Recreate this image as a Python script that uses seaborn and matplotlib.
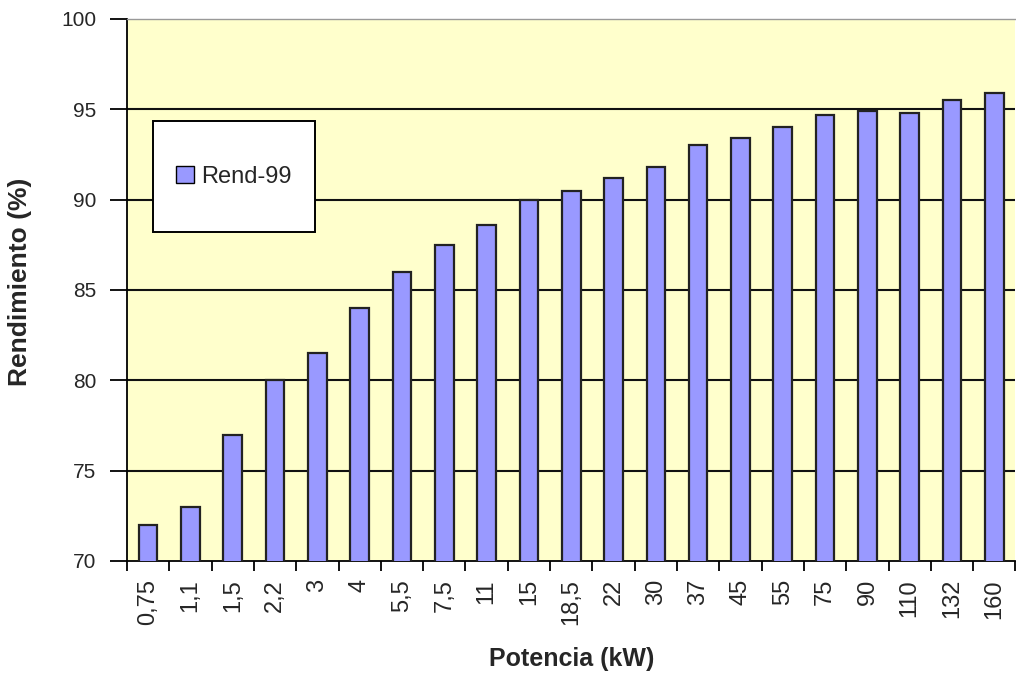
import matplotlib
matplotlib.use("Agg")
import matplotlib.pyplot as plt
import seaborn as sns
import pandas as pd
import numpy as np
from matplotlib.patches import Patch, Rectangle

# Motor rated power (kW) and efficiency (%)
potencia = ["0,75", "1,1", "1,5", "2,2", "3", "4", "5,5", "7,5", "11", "15", "18,5",
            "22", "30", "37", "45", "55", "75", "90", "110", "132", "160"]
rendimiento = [72.0, 73.0, 77.0, 80.0, 81.5, 84.0, 86.0, 87.5, 88.6, 90.0, 90.5,
               91.2, 91.8, 93.0, 93.4, 94.0, 94.7, 94.9, 94.8, 95.5, 95.9]
serie = "Rend-99"
y_ticks = [70, 75, 80, 85, 90, 95, 100]

df = pd.DataFrame({"Potencia": potencia, "Rendimiento": rendimiento})

sns.set_style("white")
plt.rcParams["font.family"] = ["Liberation Sans", "DejaVu Sans"]

fig = plt.figure(figsize=(10.16, 6.78), dpi=100)
ax = fig.add_axes([0.125, 0.1726, 0.8745, 0.7994])
ax.set_facecolor("#FFFFCC")

sns.barplot(data=df, x="Potencia", y="Rendimiento", order=potencia,
            color="#9999FF", edgecolor="#222222", linewidth=1.6,
            width=0.44, saturation=1, ax=ax, zorder=3)

ax.set_ylim(70, 100)
ax.set_xlim(-0.5, len(potencia) - 0.5)
ax.set_yticks(y_ticks)
ax.set_yticklabels([str(v) for v in y_ticks], fontsize=15)

# horizontal gridlines at inner ticks
for v in y_ticks[1:-1]:
    ax.axhline(v, color="#111111", linewidth=1.5, zorder=1)

# category labels centred under bars, tick marks between categories
ax.set_xticks(range(len(potencia)))
ax.set_xticklabels(potencia, rotation=90, fontsize=17)
ax.set_xticks(np.arange(-0.5, len(potencia)), minor=True)
ax.tick_params(axis="x", which="major", length=0, pad=13)
ax.tick_params(axis="x", which="minor", length=7, width=1.3, color="black",
               direction="out", bottom=True)
ax.tick_params(axis="y", which="major", length=12, width=1.3, color="black",
               direction="out", left=True, pad=10)

ax.spines["right"].set_visible(False)
ax.spines["top"].set_color("#999999")
ax.spines["top"].set_linewidth(1.0)
for side in ["left", "bottom"]:
    ax.spines[side].set_color("black")
    ax.spines[side].set_linewidth(1.3)

ax.set_xlabel("Potencia (kW)", fontsize=18, fontweight="bold")
ax.set_ylabel("Rendimiento (%)", fontsize=19, fontweight="bold")
ax.xaxis.set_label_coords(0.5, -0.158)
ax.yaxis.set_label_coords(-0.107, 0.515)

# legend box with a white panel and black border
panel = Rectangle((0.0293, 0.607), 0.1823, 0.2048, transform=ax.transAxes,
                  facecolor="white", edgecolor="black", linewidth=1.4, zorder=6)
ax.add_patch(panel)
handle = Patch(facecolor="#9999FF", edgecolor="black", linewidth=1.0, label=serie)
leg = ax.legend(handles=[handle], loc="center",
                bbox_to_anchor=(0.1205, 0.709), fontsize=17,
                frameon=False, handlelength=0.75, handleheight=0.75,
                handletextpad=0.3, borderaxespad=0)
leg.set_zorder(7)

fig.savefig("out.png", dpi=100, facecolor="white")
